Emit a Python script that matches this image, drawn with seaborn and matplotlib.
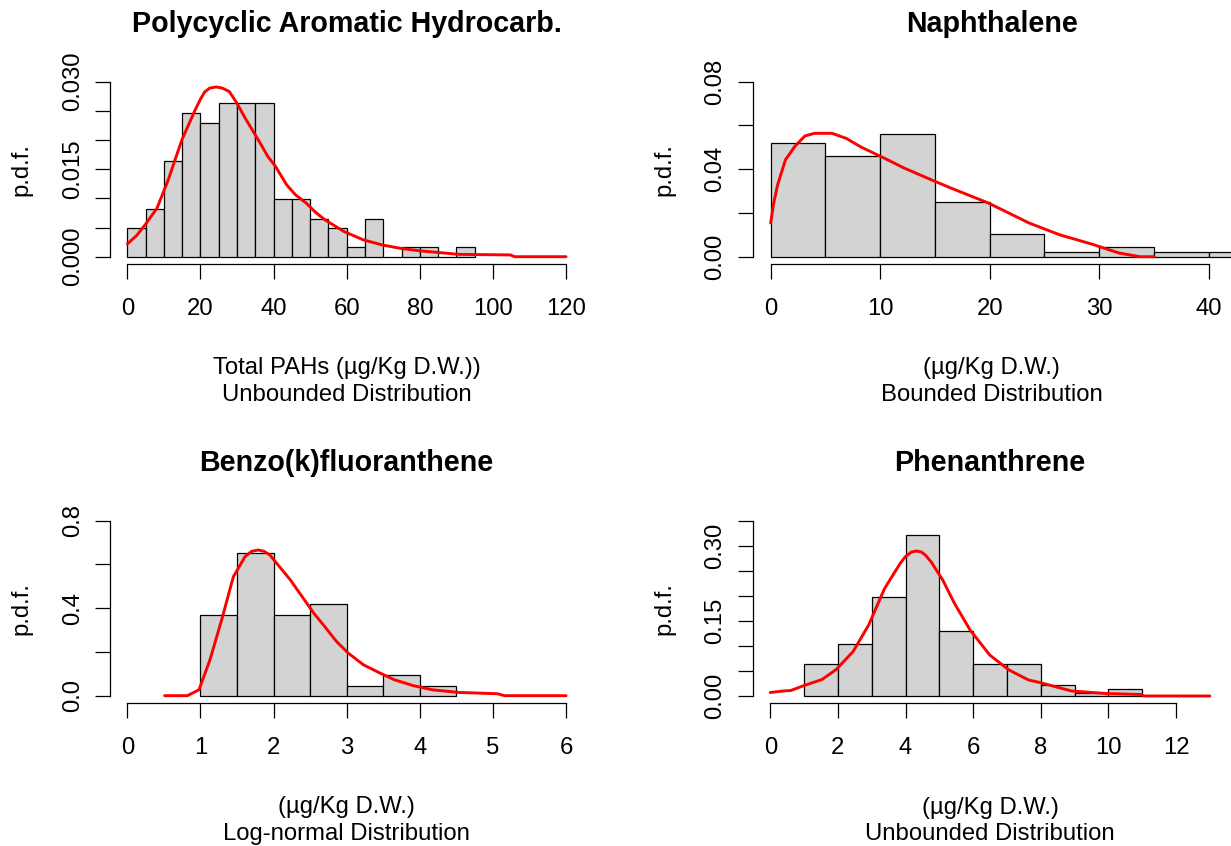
import numpy as np
import pandas as pd
import matplotlib
matplotlib.use("Agg")
import matplotlib.pyplot as plt
import seaborn as sns

# ---------------- data ----------------
titles = ["Polycyclic Aromatic Hydrocarb.", "Naphthalene", "Benzo(k)fluoranthene", "Phenanthrene"]
xlabels = ["Total PAHs (\u00b5g/Kg D.W.))\nUnbounded Distribution",
           "(\u00b5g/Kg D.W.)\nBounded Distribution",
           "(\u00b5g/Kg D.W.)\nLog-normal Distribution",
           "(\u00b5g/Kg D.W.)\nUnbounded Distribution"]

# Panel 1: total PAHs histogram (bin width 5)
pah_edges = [0, 5, 10, 15, 20, 25, 30, 35, 40, 45, 50, 55, 60, 65, 70, 75, 80, 85, 90, 95]
pah_density = [0.0050, 0.0081, 0.0164, 0.0247, 0.0229, 0.0263, 0.0263, 0.0263, 0.0099, 0.0099,
               0.0065, 0.0050, 0.0016, 0.0065, 0.0, 0.0016, 0.0016, 0.0, 0.0016]
pah_curve_x = [0, 2.5, 4.9, 8.1, 11.2, 14.9, 18.5, 20.0, 21.1, 22.5, 24.3, 26.0, 27.9, 30.0, 32.0,
               34.2, 36.5, 38.4, 40.5, 43.6, 46.0, 48.9, 51.5, 54.1, 59.3, 64.5, 69.8, 75.0, 80.2,
               85.5, 90.7, 104.8, 105.9, 120]
pah_curve_y = [0.0022, 0.0036, 0.0055, 0.0083, 0.0132, 0.0200, 0.0251, 0.0270, 0.0282, 0.0289, 0.0291,
               0.0289, 0.0283, 0.0263, 0.0240, 0.0217, 0.0193, 0.0172, 0.0155, 0.0123, 0.0106, 0.0092,
               0.0076, 0.0063, 0.0043, 0.0029, 0.0020, 0.0014, 0.0010, 0.0007, 0.0004, 0.0003, 0.0, 0.0]

# Panel 2: naphthalene (bin width 5)
nap_edges = [0, 5, 10, 15, 20, 25, 30, 35, 40, 45]
nap_density = [0.0520, 0.0461, 0.0561, 0.0249, 0.0102, 0.0020, 0.0043, 0.0020, 0.0020]
nap_curve_x = [0, 0.28, 0.64, 1.35, 2.24, 3.13, 4.0, 5.6, 6.9, 8.3, 10.4, 12.2, 14.7, 16.5, 19.9,
               23.6, 26.4, 29.3, 31.8, 33.7, 35.0]
nap_curve_y = [0.0154, 0.0245, 0.0329, 0.0443, 0.0506, 0.0552, 0.0564, 0.0564, 0.0541, 0.0500, 0.0450,
               0.0405, 0.0351, 0.0313, 0.0245, 0.0154, 0.0100, 0.0058, 0.0017, 0.0, 0.0]

# Panel 3: benzo(k)fluoranthene (bin width 0.5)
bkf_edges = [1.0, 1.5, 2.0, 2.5, 3.0, 3.5, 4.0, 4.5]
bkf_density = [0.371, 0.654, 0.371, 0.420, 0.043, 0.093, 0.043]
bkf_curve_x = [0.51, 0.82, 0.98, 1.13, 1.29, 1.45, 1.61, 1.70, 1.79, 1.87, 1.95, 2.08, 2.23, 2.39,
               2.55, 2.70, 2.86, 3.02, 3.23, 3.44, 3.65, 3.91, 4.17, 4.53, 5.06, 5.16, 6.0]
bkf_curve_y = [0.0, 0.0, 0.027, 0.164, 0.347, 0.544, 0.636, 0.660, 0.666, 0.660, 0.643, 0.590, 0.529,
               0.453, 0.377, 0.316, 0.248, 0.195, 0.141, 0.106, 0.073, 0.046, 0.027, 0.015, 0.009,
               0.0, 0.0]

# Panel 4: phenanthrene (bin width 1)
phe_edges = [1, 2, 3, 4, 5, 6, 7, 8, 9, 10, 11]
phe_density = [0.065, 0.105, 0.199, 0.323, 0.130, 0.065, 0.065, 0.023, 0.007, 0.015]
phe_curve_x = [0, 0.38, 0.61, 0.96, 1.53, 1.95, 2.45, 2.91, 3.38, 3.84, 4.0, 4.18, 4.33, 4.47, 4.60,
               4.76, 5.10, 5.45, 5.91, 6.49, 7.06, 7.64, 7.97, 8.91, 9.94, 10.98, 11.04, 13.0]
phe_curve_y = [0.007, 0.010, 0.011, 0.020, 0.033, 0.053, 0.089, 0.142, 0.215, 0.265, 0.279, 0.288,
               0.290, 0.288, 0.281, 0.268, 0.232, 0.185, 0.132, 0.082, 0.052, 0.032, 0.027, 0.010,
               0.005, 0.003, 0.0, 0.0]

# axis ticks / labels
x_ticks = [[0, 20, 40, 60, 80, 100, 120], [0, 10, 20, 30, 40], [0, 1, 2, 3, 4, 5, 6],
           [0, 2, 4, 6, 8, 10, 12]]
y_ticks = [[0.000, 0.005, 0.010, 0.015, 0.020, 0.025, 0.030],
           [0.00, 0.02, 0.04, 0.06, 0.08],
           [0.0, 0.2, 0.4, 0.6, 0.8],
           [0.00, 0.05, 0.10, 0.15, 0.20, 0.25, 0.30, 0.35]]
y_ticklabels = [["0.000", "", "", "0.015", "", "", "0.030"],
                ["0.00", "", "0.04", "", "0.08"],
                ["0.0", "", "0.4", "", "0.8"],
                ["0.00", "", "", "0.15", "", "", "0.30", ""]]

# ---------------- style ----------------
sns.set_theme(style="white")
plt.rcParams["font.family"] = ["Liberation Sans", "DejaVu Sans"]
plt.rcParams["text.color"] = "black"
plt.rcParams["axes.labelcolor"] = "black"
plt.rcParams["xtick.color"] = "black"
plt.rcParams["ytick.color"] = "black"

W, H = 1231, 846
fig = plt.figure(figsize=(W / 100, H / 100), dpi=100)


def place(l, t, r, b):
    return fig.add_axes([l / W, 1 - b / H, (r - l) / W, (b - t) / H])


axes_px = [(109.8, 74.7, 583.6, 263.7), (752.7, 74.7, 1231.0, 263.7),
           (109.8, 513.7, 583.6, 702.7), (752.7, 514.0, 1227.4, 703.0)]
xlims = [(-4.8, 124.8), (-1.64, 42.04), (-0.24, 6.24), (-0.52, 13.52)]
ylims = [(-0.0012, 0.0312), (-0.0032, 0.0832), (-0.032, 0.832), (-0.014, 0.364)]

hists = [(pah_edges, pah_density, pah_curve_x, pah_curve_y),
         (nap_edges, nap_density, nap_curve_x, nap_curve_y),
         (bkf_edges, bkf_density, bkf_curve_x, bkf_curve_y),
         (phe_edges, phe_density, phe_curve_x, phe_curve_y)]

FS = 17.2
for i, (edges, dens, cx, cy) in enumerate(hists):
    l, t, r, b = axes_px[i]
    ax = place(l, t, r, b)
    edge_list = [float(e) for e in edges]
    centers = [(edge_list[k] + edge_list[k + 1]) / 2 for k in range(len(edge_list) - 1)]
    df = pd.DataFrame({"x": centers, "w": list(dens)})
    sns.histplot(data=df, x="x", weights="w", bins=edge_list, stat="count",
                 color="#D3D3D3", edgecolor="black", linewidth=0.9, alpha=1.0, ax=ax)
    sns.lineplot(x=cx, y=cy, color="red", linewidth=2.1, ax=ax, sort=False)

    ax.set_xlim(*xlims[i])
    ax.set_ylim(*ylims[i])
    ax.set_xticks(x_ticks[i])
    ax.set_xticklabels([str(v) for v in x_ticks[i]])
    ax.set_yticks(y_ticks[i])
    ax.set_yticklabels(y_ticklabels[i], rotation=90, va="center")

    for s in ["top", "right"]:
        ax.spines[s].set_visible(False)
    for s in ["left", "bottom"]:
        ax.spines[s].set_color("black")
        ax.spines[s].set_linewidth(0.9)
    ax.spines["left"].set_bounds(y_ticks[i][0], y_ticks[i][-1])
    ax.spines["bottom"].set_bounds(x_ticks[i][0], x_ticks[i][-1])
    ax.grid(False)
    ax.set_facecolor("white")

    ax.tick_params(axis="both", direction="out", length=10.8, width=0.9, color="black",
                   labelsize=FS, labelcolor="black", bottom=True, left=True)
    ax.tick_params(axis="x", pad=14)
    ax.tick_params(axis="y", pad=8)

    ax.set_title(titles[i], fontsize=20.6, fontweight="bold", y=1.268, pad=0, va="center",
                 color="black")
    ax.set_xlabel(xlabels[i], fontsize=FS, linespacing=1.26, va="center", color="black")
    ax.xaxis.set_label_coords(0.5, -0.623)
    ax.set_ylabel("p.d.f.", fontsize=FS, va="center", color="black")
    ax.yaxis.set_label_coords(-88 / (r - l), 0.5)

fig.savefig("out.png", dpi=100, facecolor="white")
